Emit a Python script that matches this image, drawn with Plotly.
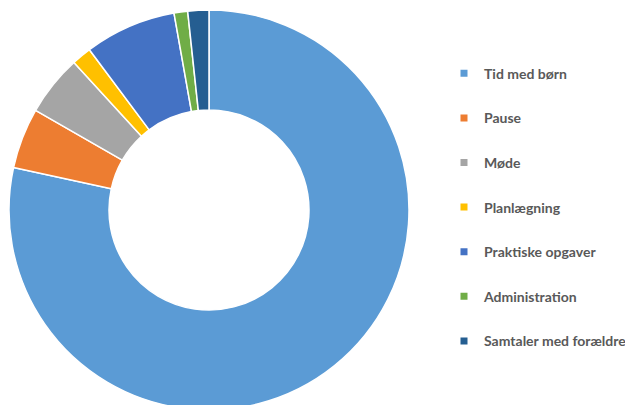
import plotly.graph_objects as go

categories = ["Tid med børn", "Pause", "Møde", "Planlægning", "Praktiske opgaver",
              "Administration", "Samtaler med forældre"]
values = [78.4, 4.9, 4.9, 1.6, 7.4, 1.1, 1.7]
colors = ["#5B9BD5", "#ED7D31", "#A5A5A5", "#FFC000", "#4472C4", "#70AD47", "#255E91"]

W, H = 633, 405

fig = go.Figure()
fig.add_trace(go.Pie(
    labels=categories, values=values, hole=0.5, sort=False,
    direction="clockwise", rotation=0,
    marker=dict(colors=colors, line=dict(color="white", width=1.5)),
    textinfo="none", showlegend=False,
    domain=dict(x=[1 / W, 401 / W], y=[0, 1]),
))

# legend entries (one group each so the gap between them can be set)
for cat, col in zip(categories, colors):
    fig.add_trace(go.Scatter(
        x=[None], y=[None], mode="markers", name=cat, legendgroup=cat,
        marker=dict(symbol="square", size=7, color=col),
        showlegend=True, hoverinfo="skip",
    ))

fig.update_layout(
    width=W, height=H,
    margin=dict(l=0, r=0, t=2, b=3),
    paper_bgcolor="white", plot_bgcolor="white",
    xaxis=dict(visible=False), yaxis=dict(visible=False),
    legend=dict(
        x=436 / W, xanchor="left", y=0.8807, yanchor="top",
        font=dict(family="Lato", size=14, color="#595959", weight="bold"),
        tracegroupgap=23.4, itemclick=False, itemdoubleclick=False,
        bgcolor="rgba(0,0,0,0)",
    ),
)

fig.write_html("out.html")
